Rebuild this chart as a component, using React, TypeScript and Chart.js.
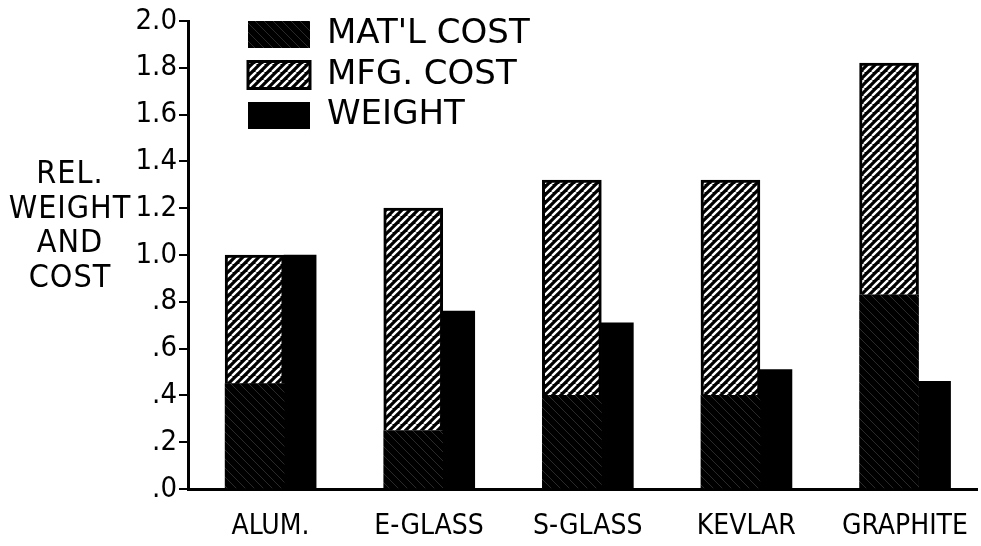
import React, { useEffect, useRef } from 'react';
import { Chart, registerables } from 'chart.js';

Chart.register(...registerables);

const CATEGORIES = ['ALUM.', 'E-GLASS', 'S-GLASS', 'KEVLAR', 'GRAPHITE'];
const SERIES_NAMES = ["MAT'L COST", 'MFG. COST', 'WEIGHT'];
const MATL_COST = [0.45, 0.25, 0.4, 0.4, 0.83];
const MFG_COST = [0.55, 0.95, 0.92, 0.92, 0.99];
const WEIGHT = [1.0, 0.76, 0.71, 0.51, 0.46];
const Y_TICKS = [0, 0.2, 0.4, 0.6, 0.8, 1.0, 1.2, 1.4, 1.6, 1.8, 2.0];
const Y_TICK_LABELS = ['.0', '.2', '.4', '.6', '.8', '1.0', '1.2', '1.4', '1.6', '1.8', '2.0'];
const Y_TITLE_LINES = ['REL.', 'WEIGHT', 'AND', 'COST'];

const FONT = "'DejaVu Sans Condensed', 'Liberation Sans Narrow', 'DejaVu Sans', sans-serif";
const LEGEND_FONT = "'DejaVu Sans', sans-serif";

function makeHatch(): CanvasPattern | string {
  const s = 8;
  const c = document.createElement('canvas');
  c.width = s;
  c.height = s;
  const g = c.getContext('2d');
  if (!g) return '#000';
  g.fillStyle = '#000';
  g.fillRect(0, 0, s, s);
  g.strokeStyle = '#fff';
  g.lineWidth = 2.4;
  for (const o of [-s, 0, s]) {
    g.beginPath();
    g.moveTo(o, s);
    g.lineTo(o + s, 0);
    g.stroke();
  }
  return g.createPattern(c, 'repeat') || '#000';
}

function makeDark(): CanvasPattern | string {
  const s = 9;
  const c = document.createElement('canvas');
  c.width = s;
  c.height = s;
  const g = c.getContext('2d');
  if (!g) return '#000';
  g.fillStyle = '#000';
  g.fillRect(0, 0, s, s);
  g.strokeStyle = '#2a2a2a';
  g.lineWidth = 1;
  for (const o of [-s, 0, s]) {
    g.beginPath();
    g.moveTo(o, 0);
    g.lineTo(o + s, s);
    g.stroke();
  }
  return g.createPattern(c, 'repeat') || '#000';
}

const legendOffset = {
  id: 'legendOffset',
  afterLayout(chart: any) {
    const lg = chart.legend;
    if (!lg) return;
    const pad = lg.options.labels.padding;
    lg.left = 248 - pad;
    lg.top = 17.5 - pad;
    lg.right = lg.left + lg.width;
    lg.bottom = lg.top + lg.height;
  },
};

export default function App() {
  const ref = useRef<HTMLCanvasElement | null>(null);

  useEffect(() => {
    if (!ref.current) return;
    const hatch = makeHatch();
    const dark = makeDark();
    const chart = new Chart(ref.current, {
      type: 'bar',
      data: {
        datasets: [
          {
            label: SERIES_NAMES[0],
            data: MATL_COST.map((v, i) => ({ x: i, y: v })),
            backgroundColor: dark as any,
            borderWidth: 0,
            stack: 'cost',
            barThickness: 59,
          },
          {
            label: SERIES_NAMES[1],
            data: MFG_COST.map((v, i) => ({ x: i, y: v })),
            backgroundColor: hatch as any,
            borderColor: '#000',
            borderWidth: 3,
            borderSkipped: 'start',
            stack: 'cost',
            barThickness: 59,
          },
          {
            label: SERIES_NAMES[2],
            data: WEIGHT.map((v, i) => ({ x: i, y: v })),
            backgroundColor: '#000',
            borderWidth: 0,
            stack: 'weight',
            barThickness: 32,
          },
        ],
      },
      options: {
        responsive: false,
        animation: false,
        devicePixelRatio: 1,
        events: [],
        layout: { padding: { top: 21, left: 0, right: 1, bottom: 0 } },
        plugins: {
          tooltip: { enabled: false },
          legend: {
            position: 'chartArea' as any,
            align: 'start',
            labels: {
              boxWidth: 62,
              boxHeight: 27,
              padding: 6.5,
              color: '#000',
              font: { family: LEGEND_FONT, size: 34 },
            },
          },
        },
        scales: {
          x: {
            type: 'linear',
            stacked: true,
            offset: false,
            min: -0.606,
            max: 4.372,
            grid: { display: false, offset: false },
            border: { display: true, color: '#000', width: 3 },
            afterBuildTicks: (scale: any) => {
              scale.ticks = CATEGORIES.map((_, i) => ({ value: i - 0.086 }));
            },
            afterFit: (scale: any) => {
              scale.height = 57;
            },
            ticks: {
              autoSkip: false,
              maxRotation: 0,
              padding: 13,
              color: '#000',
              font: { family: FONT, size: 28 },
              callback: (_v: any, i: number) => CATEGORIES[i],
            },
          },
          y: {
            stacked: true,
            min: 0,
            max: 2,
            grid: {
              display: true,
              drawOnChartArea: false,
              drawTicks: true,
              tickLength: 9,
              color: '#000',
              lineWidth: 2,
            },
            border: { display: true, color: '#000', width: 3 },
            afterBuildTicks: (scale: any) => {
              scale.ticks = Y_TICKS.map((v) => ({ value: v }));
            },
            afterFit: (scale: any) => {
              scale.width = 188;
            },
            ticks: {
              padding: 2,
              color: '#000',
              font: { family: FONT, size: 29 },
              callback: (_v: any, i: number) => Y_TICK_LABELS[i],
            },
          },
        },
      },
      plugins: [legendOffset],
    });
    return () => chart.destroy();
  }, []);

  return (
    <div style={{ position: 'fixed', left: 0, top: 0, width: 981, height: 546, background: '#fff' }}>
      <canvas ref={ref} width={981} height={546} style={{ display: 'block' }} />
      <div
        style={{
          position: 'absolute',
          left: 0,
          top: 155,
          width: 140,
          textAlign: 'center',
          fontFamily: FONT,
          fontSize: 32,
          lineHeight: '34.5px',
          color: '#000',
          letterSpacing: 1,
        }}
      >
        {Y_TITLE_LINES.map((t) => (
          <div key={t}>{t}</div>
        ))}
      </div>
    </div>
  );
}
